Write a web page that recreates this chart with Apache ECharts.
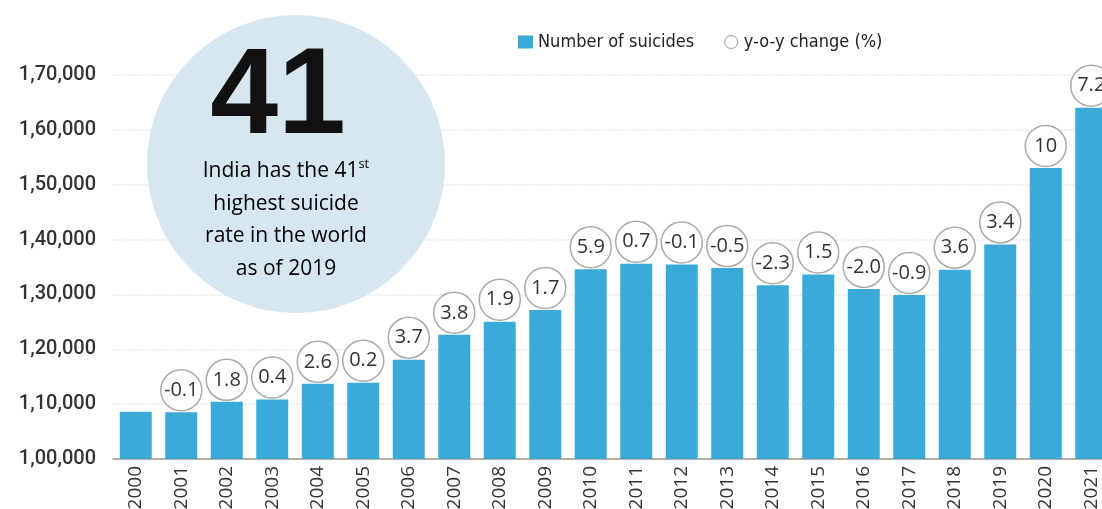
<!DOCTYPE html>
<html>
<head>
<meta charset="utf-8">
<style>
  html, body { margin: 0; padding: 0; background: #fff; }
  #chart { width: 1102px; height: 509px; }
</style>
<script src="https://cdn.jsdelivr.net/npm/echarts@6/dist/echarts.min.js"></script>
</head>
<body>
<div id="chart"></div>
<script>
// data
var years = ["2000", "2001", "2002", "2003", "2004", "2005", "2006", "2007", "2008", "2009", "2010",
  "2011", "2012", "2013", "2014", "2015", "2016", "2017", "2018", "2019", "2020", "2021"];
var suicides = [108593, 108506, 110417, 110851, 113697, 113914, 118112, 122637, 125017, 127151, 134599,
  135585, 135445, 134799, 131666, 133623, 131008, 129887, 134516, 139123, 153052, 164033];
var yoyChange = [null, "-0.1", "1.8", "0.4", "2.6", "0.2", "3.7", "3.8", "1.9", "1.7", "5.9",
  "0.7", "-0.1", "-0.5", "-2.3", "1.5", "-2.0", "-0.9", "3.6", "3.4", "10", "7.2"];
var yTicks = { min: 100000, max: 170000, step: 10000 };

// 1,70,000 style (Indian grouping)
function indian(v) {
  var s = String(v);
  var last3 = s.slice(-3);
  var rest = s.slice(0, -3);
  if (rest) rest = rest.replace(/\B(?=(\d{2})+(?!\d))/g, ",") + ",";
  return rest + last3;
}

var narrow = '"DejaVu Sans Condensed", Roboto, sans-serif';

var chart = echarts.init(document.getElementById("chart"));

var option = {
  animation: false,
  textStyle: { fontFamily: "Open Sans" },
  legend: {
    left: 513,
    top: 28,
    itemWidth: 15,
    itemHeight: 13,
    itemGap: 30,
    textStyle: { fontFamily: narrow, fontSize: 18, color: "#222" },
    data: [
      { name: "Number of suicides", icon: "rect" },
      { name: "y-o-y change (%)", icon: "circle", itemStyle: { color: "#fff", borderColor: "#999", borderWidth: 1 } }
    ]
  },
  grid: { left: 113, top: 75, bottom: 50, width: 1001, outerBoundsMode: "none", containLabel: false },
  xAxis: {
    type: "category",
    data: years,
    axisTick: { show: false },
    axisLine: { lineStyle: { color: "#a39886", width: 1.5 } },
    axisLabel: { rotate: 90, margin: 7, fontSize: 19, color: "#333", fontFamily: "Open Sans" }
  },
  yAxis: {
    type: "value",
    min: yTicks.min,
    max: yTicks.max,
    interval: yTicks.step,
    axisLine: { show: false },
    axisTick: { show: false },
    splitLine: { lineStyle: { color: "#e4e4e4", width: 1.5, type: "dotted" } },
    axisLabel: {
      margin: 17,
      fontSize: 20,
      fontWeight: 500,
      color: "#333",
      fontFamily: "Roboto",
      formatter: function (v) { return indian(v); }
    }
  },
  graphic: [
    {
      type: "circle",
      z: 1,
      shape: { cx: 296, cy: 164, r: 149 },
      style: { fill: "#d6e7f2" }
    },
    {
      type: "text",
      z: 3,
      x: 278,
      y: 99,
      style: {
        text: "41",
        font: '900 122px "Liberation Sans"',
        fill: "#111",
        align: "center",
        verticalAlign: "middle"
      }
    },
    {
      type: "text",
      z: 3,
      x: 286,
      y: 220,
      style: {
        text: "{a|India has the 41}{s|st}\n{a|highest suicide}\n{a|rate in the world}\n{a|as of 2019}",
        align: "center",
        verticalAlign: "middle",
        rich: {
          a: { fontFamily: "Open Sans", fontSize: 21, color: "#333", lineHeight: 32.5 },
          s: { fontFamily: "Open Sans", fontSize: 13, color: "#333", padding: [0, 0, 14, 0] }
        }
      }
    }
  ],
  series: [
    {
      name: "Number of suicides",
      type: "bar",
      data: suicides,
      barWidth: 32,
      z: 2,
      itemStyle: { color: "#3aaad9" }
    },
    {
      name: "y-o-y change (%)",
      type: "scatter",
      z: 4,
      data: suicides.map(function (v, i) { return yoyChange[i] === null ? "-" : v; }),
      symbol: "circle",
      symbolSize: 41,
      symbolOffset: [0, -22],
      itemStyle: { color: "#fff", borderColor: "#aaa", borderWidth: 1.5, opacity: 1 },
      label: {
        show: true,
        position: "inside",
        fontFamily: "Open Sans",
        fontSize: 20,
        color: "#333",
        formatter: function (p) { return yoyChange[p.dataIndex]; }
      },
      emphasis: { disabled: true }
    }
  ]
};

chart.setOption(option);
</script>
</body>
</html>
